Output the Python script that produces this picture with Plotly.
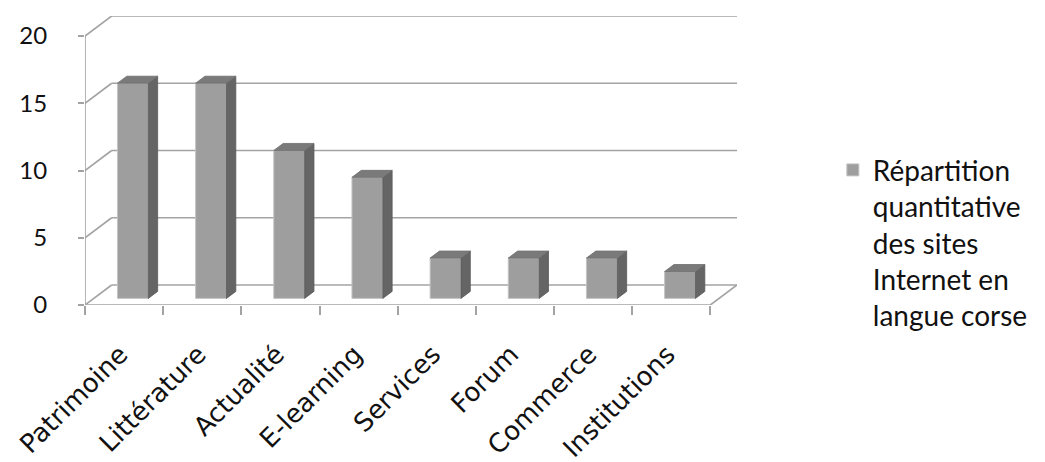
import plotly.graph_objects as go

# ---------------- data ----------------
CATEGORIES = ["Patrimoine", "Littérature", "Actualité", "E-learning",
              "Services", "Forum", "Commerce", "Institutions"]
VALUES = [16, 16, 11, 9, 3, 3, 3, 2]
Y_TICKS = [0, 5, 10, 15, 20]
SERIES_NAME = "Répartition<br>quantitative<br>des sites<br>Internet en<br>langue corse"

# ---------------- style ----------------
DX = 0.341        # depth of the 3-D box, in category units
DY = 1.487        # depth of the 3-D box, in value units
FRONT = 0.33      # depth fraction where the bar's front face sits
BAR_DEPTH = 0.35  # depth fraction occupied by the bar
BAR_W = 0.395     # bar width, category units
LABEL_DX = -0.05  # small nudge of rotated category labels
GRID = dict(color="#a3a3a3", width=1.6)
C_FRONT = "#9e9e9e"
C_SIDE = "#656565"
C_TOP = "#7a7a7a"

n = len(CATEGORIES)
xs = list(range(n))
ymax = Y_TICKS[-1]
x_left, x_right = -0.5, n - 0.5

fig = go.Figure()

# front faces of bars
fig.add_trace(go.Bar(
    x=xs, y=VALUES, base=FRONT * DY, width=BAR_W,
    offset=FRONT * DX - BAR_W / 2,
    marker=dict(color=C_FRONT, line=dict(color="#c4c4c4", width=1)),
    name=SERIES_NAME, showlegend=True,
))

# side and top faces
side_x, side_y, top_x, top_y = [], [], [], []
bdx, bdy = BAR_DEPTH * DX, BAR_DEPTH * DY
for i, v in zip(xs, VALUES):
    xl = i + FRONT * DX - BAR_W / 2
    xr = xl + BAR_W
    yb = FRONT * DY
    yt = yb + v
    side_x += [xr, xr + bdx, xr + bdx, xr, xr, None]
    side_y += [yb, yb + bdy, yt + bdy, yt, yb, None]
    top_x += [xl, xr, xr + bdx, xl + bdx, xl, None]
    top_y += [yt, yt, yt + bdy, yt + bdy, yt, None]

fig.add_trace(go.Scatter(x=side_x, y=side_y, mode="lines", fill="toself",
                         fillcolor=C_SIDE, line=dict(color="#5a5a5a", width=0.8),
                         showlegend=False, hoverinfo="skip"))
fig.add_trace(go.Scatter(x=top_x, y=top_y, mode="lines", fill="toself",
                         fillcolor=C_TOP, line=dict(color="#6e6e6e", width=0.8),
                         showlegend=False, hoverinfo="skip"))

# walls, floor, gridlines
shapes = []
for t in Y_TICKS:
    shapes.append(dict(type="line", xref="x", yref="y", layer="below",
                       x0=x_left, y0=t, x1=x_left + DX, y1=t + DY, line=GRID))
    shapes.append(dict(type="line", xref="x", yref="y", layer="below",
                       x0=x_left + DX, y0=t + DY, x1=x_right + DX, y1=t + DY, line=GRID))
shapes.append(dict(type="line", xref="x", yref="y", layer="below",
                   x0=x_left, y0=0, x1=x_right, y1=0, line=GRID))
shapes.append(dict(type="line", xref="x", yref="y", layer="below",
                   x0=x_right, y0=0, x1=x_right + DX, y1=DY, line=GRID))
shapes.append(dict(type="line", xref="x", yref="y", layer="below",
                   x0=x_left, y0=0, x1=x_left, y1=ymax, line=GRID))

fig.update_layout(
    width=1037, height=454,
    margin=dict(l=77, r=308, t=8, b=157, autoexpand=False),
    paper_bgcolor="white", plot_bgcolor="white",
    shapes=shapes,
    showlegend=True,
    legend=dict(x=1.147, y=0.553, xanchor="left", yanchor="top",
                valign="top", font=dict(family="Lato", size=28, color="#111111"),
                bgcolor="rgba(0,0,0,0)"),
    xaxis=dict(range=[x_left, x_right + DX], tickmode="array",
               tickvals=[i + LABEL_DX for i in xs],
               ticktext=CATEGORIES, tickangle=-45, ticks="",
               showgrid=False, zeroline=False, showline=False, automargin=False,
               ticklabelstandoff=28,
               tickfont=dict(family="DejaVu Sans", size=26, color="#111111"),
               minor=dict(tickmode="array",
                          tickvals=[i - 0.5 for i in range(n + 1)],
                          ticks="outside", ticklen=9, tickwidth=1.6,
                          tickcolor=GRID["color"], showgrid=False)),
    yaxis=dict(range=[0, ymax + DY], tickmode="array", tickvals=Y_TICKS,
               ticks="outside", ticklen=6, tickwidth=1.6, tickcolor=GRID["color"],
               showgrid=False, zeroline=False, showline=False, automargin=False,
               ticklabelstandoff=26,
               tickfont=dict(family="Lato", size=24, color="#111111")),
)

fig.write_html("out.html")
